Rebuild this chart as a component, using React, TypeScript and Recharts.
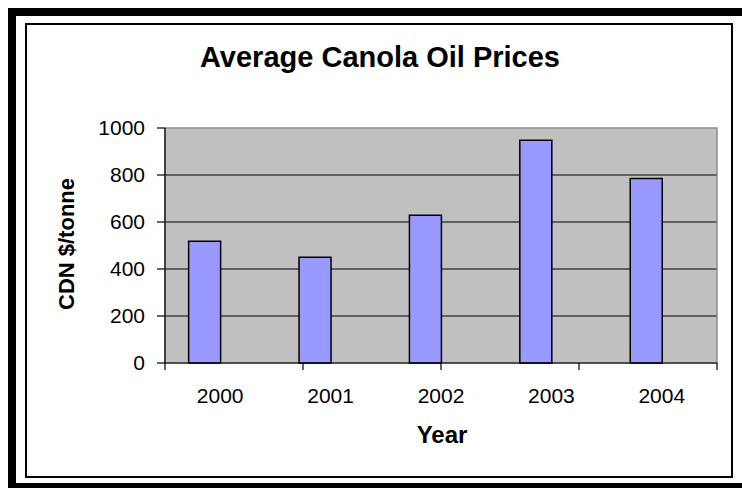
import { BarChart, Bar, XAxis, YAxis, CartesianGrid, ReferenceArea } from 'recharts';

const years = ['2000', '2001', '2002', '2003', '2004'];
const prices = [518, 450, 629, 948, 785];
const yTicks = [0, 200, 400, 600, 800, 1000];
const gridLines = [200, 400, 600, 800];
const boundaryTicks = [0, 1, 2, 3, 4, 5];

const data = years.map((year, i) => ({ year, price: prices[i], blank: null }));

const FONT = '"Liberation Sans", Arial, sans-serif';

export default function App() {
  return (
    <div style={{ position: 'absolute', left: 0, top: 0, width: 742, height: 488, overflow: 'hidden', background: '#fff' }}>
      {/* outer thick frame */}
      <div style={{ position: 'absolute', left: 8, top: 8, width: 734, height: 480, background: '#000' }} />
      <div style={{ position: 'absolute', left: 16, top: 16, width: 726, height: 467, background: '#fff' }} />
      {/* inner thin frame */}
      <div
        style={{
          position: 'absolute',
          left: 25,
          top: 23,
          width: 704,
          height: 451,
          border: '2px solid #000',
        }}
      />
      <div style={{ position: 'absolute', left: 0, top: 0 }}>
        <BarChart
          width={742}
          height={488}
          data={data}
          margin={{ top: 128, right: 25, bottom: 84, left: 105 }}
          barCategoryGap="21.4%"
          barGap={0}
        >
          <CartesianGrid
            xAxisId="cat"
            fill="#C0C0C0"
            stroke="#000"
            strokeWidth={1.2}
            vertical={false}
            horizontalValues={gridLines}
          />
          <ReferenceArea xAxisId="cat" y1={0} y2={1000} fill="none" stroke="#8c8c8c" strokeWidth={1.5} ifOverflow="visible" />
          {/* boundary ticks between the categories, like the original axis */}
          <XAxis
            xAxisId={0}
            type="number"
            domain={[0, 5]}
            ticks={boundaryTicks}
            height={1}
            axisLine={{ stroke: '#000', strokeWidth: 1.2 }}
            tickSize={7}
            tickLine={{ stroke: '#000', strokeWidth: 1.2 }}
            tickFormatter={() => ''}
          />
          <XAxis
            xAxisId="cat"
            dataKey="year"
            height={40}
            tickLine={false}
            axisLine={false}
            tickSize={0}
            tickMargin={24}
            tick={{ fill: '#000', fontSize: 21, fontFamily: FONT }}
            interval={0}
          />
          <YAxis
            width={60}
            domain={[0, 1000]}
            ticks={yTicks}
            interval={0}
            tickSize={8}
            tickMargin={12}
            axisLine={{ stroke: '#000', strokeWidth: 1.2 }}
            tickLine={{ stroke: '#000', strokeWidth: 1.2 }}
            tick={{ fill: '#000', fontSize: 21, fontFamily: FONT }}
          />
          <Bar xAxisId="cat" dataKey="price" fill="#9999FF" stroke="#000" strokeWidth={1.5} isAnimationActive={false} />
          <Bar xAxisId="cat" dataKey="blank" fill="#993366" stroke="#000" strokeWidth={1.5} isAnimationActive={false} />
        </BarChart>
      </div>
      <svg width={742} height={488} style={{ position: 'absolute', left: 0, top: 0, pointerEvents: 'none' }}>
        <text x={380} y={67} textAnchor="middle" fontFamily={FONT} fontWeight="bold" fontSize={29} fill="#000">
          Average Canola Oil Prices
        </text>
        <text
          x={66}
          y={244}
          transform="rotate(-90 66 244)"
          textAnchor="middle"
          dominantBaseline="central"
          fontFamily={FONT}
          fontWeight="bold"
          fontSize={22}
          fill="#000"
        >
          CDN $/tonne
        </text>
        <text x={442} y={443} textAnchor="middle" fontFamily={FONT} fontWeight="bold" fontSize={24} fill="#000">
          Year
        </text>
      </svg>
    </div>
  );
}
